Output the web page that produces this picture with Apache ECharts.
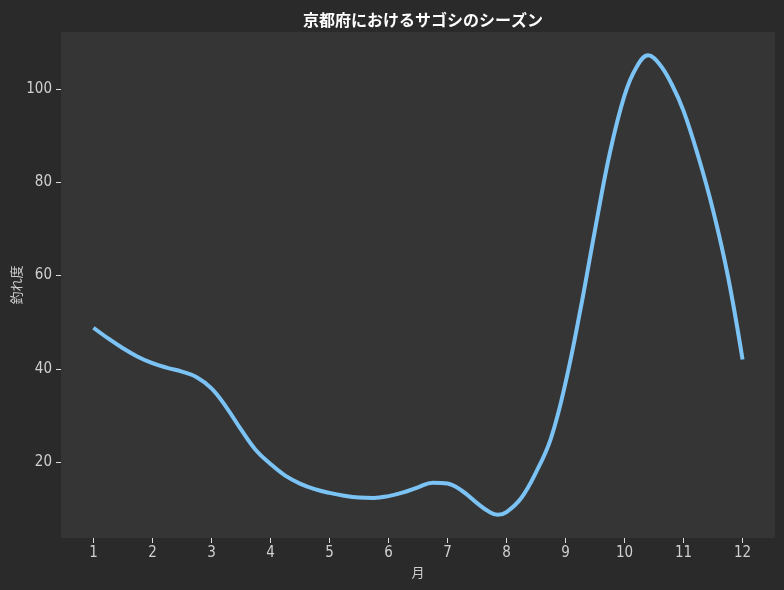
<!DOCTYPE html>
<html>
<head>
<meta charset="utf-8">
<script src="https://cdn.jsdelivr.net/npm/echarts@6/dist/echarts.min.js"></script>
<style>
html,body{margin:0;padding:0;background:#2a2a2a;}
#chart{width:784px;height:590px;}
</style>
</head>
<body>
<div id="chart"></div>
<script>
// Points (month, catch level)
const months = [1.0, 1.25, 1.5, 1.75, 2.0, 2.25, 2.5, 2.75, 3.0, 3.25, 3.5, 3.75, 4.0, 4.25, 4.5, 4.75, 5.0, 5.25, 5.5, 5.75, 6.0, 6.25, 6.5, 6.75, 7.0, 7.25, 7.5, 7.7, 7.85, 8.0, 8.25, 8.5, 8.75, 9.0, 9.25, 9.5, 9.75, 10.0, 10.2, 10.4, 10.6, 10.8, 11.0, 11.25, 11.5, 11.75, 12.0];
const values = [48.8, 46.5, 44.4, 42.6, 41.2, 40.2, 39.4, 38.2, 35.8, 31.8, 27.0, 22.6, 19.6, 17.1, 15.4, 14.2, 13.4, 12.8, 12.4, 12.3, 12.7, 13.5, 14.6, 15.6, 15.4, 13.8, 11.2, 9.4, 8.7, 9.3, 12.3, 17.8, 25.0, 37.0, 52.5, 69.8, 86.2, 98.6, 104.6, 107.2, 105.2, 101.0, 95.3, 85.5, 74.0, 60.0, 42.0];
const xTicks = [1, 2, 3, 4, 5, 6, 7, 8, 9, 10, 11, 12];
const yTicks = [20, 40, 60, 80, 100];
const titleText = '京都府におけるサゴシのシーズン';
const xName = '月';
const yName = '釣れ度';

const font = '"Noto Sans CJK JP", "Noto Sans", sans-serif';
const tickFont = '"Liberation Sans Narrow", "DejaVu Sans Condensed", sans-serif';
const chart = echarts.init(document.getElementById('chart'));
chart.setOption({
  backgroundColor: '#2a2a2a',
  animation: false,
  title: {
    text: titleText,
    left: 418, top: 7, textAlign: 'center',
    textStyle: {color: '#ffffff', fontSize: 16, fontWeight: 'bold', fontFamily: font}
  },
  grid: {
    left: 61, right: 9, top: 32, bottom: 52,
    outerBoundsMode: 'none', containLabel: false,
    show: true, backgroundColor: '#353535', borderWidth: 0
  },
  xAxis: {
    type: 'value', min: 0.45, max: 12.55,
    name: xName, nameLocation: 'middle', nameGap: 28, nameMoveOverlap: false,
    nameTextStyle: {color: '#cccccc', fontSize: 13, fontFamily: font},
    axisLine: {show: false},
    axisTick: {show: true, length: 5, lineStyle: {color: '#dddddd'}, customValues: xTicks},
    axisLabel: {color: '#d0d0d0', fontSize: 15, fontFamily: tickFont, margin: 8, customValues: xTicks},
    splitLine: {show: false}
  },
  yAxis: {
    type: 'value', min: 3.73, max: 112.2,
    name: yName, nameLocation: 'middle', nameGap: 38, nameRotate: 90, nameMoveOverlap: false,
    nameTextStyle: {color: '#cccccc', fontSize: 13, fontFamily: font},
    axisLine: {show: false},
    axisTick: {show: true, length: 5, lineStyle: {color: '#dddddd'}, customValues: yTicks},
    axisLabel: {color: '#d0d0d0', fontSize: 15, fontFamily: tickFont, margin: 9, customValues: yTicks},
    splitLine: {show: false}
  },
  series: [{
    type: 'line',
    data: months.map((m, i) => [m, values[i]]),
    smooth: 0.4,
    showSymbol: false,
    lineStyle: {color: '#7cc3f5', width: 4},
    itemStyle: {color: '#7cc3f5'}
  }]
});
</script>
</body>
</html>
